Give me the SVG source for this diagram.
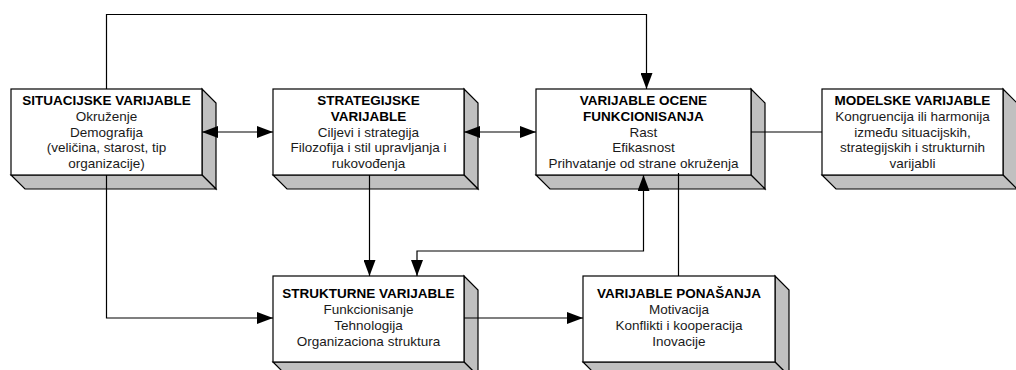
<svg xmlns="http://www.w3.org/2000/svg" width="1016" height="370" viewBox="0 0 1016 370">
<style>
.front{fill:#fff;stroke:#000;stroke-width:1.2}
.shade{fill:#c0c0c0;stroke:#000;stroke-width:1.2;stroke-linejoin:miter}
text{font-family:"Liberation Sans",Arial,sans-serif;font-size:13.5px;fill:#1a1a1a;text-anchor:middle}
.t{font-weight:bold;fill:#000}
.c{fill:none;stroke:#000;stroke-width:1.2}
</style>
<defs>
<marker id="ah" markerUnits="userSpaceOnUse" markerWidth="16" markerHeight="12" viewBox="0 0 16 12" refX="16" refY="6" orient="auto-start-reverse">
<path d="M0,0 L16,6 L0,12 z" fill="#000"/>
</marker>
</defs>
<rect width="1016" height="370" fill="#fff"/>

<g id="situacijske">
<polygon class="shade" points="202,89 216,103 216,189 202,175"/>
<polygon class="shade" points="11,175 202,175 216,189 25,189"/>
<rect class="front" x="11" y="89" width="191" height="86"/>
<text class="t" x="106.5" y="105">SITUACIJSKE VARIJABLE</text>
<text x="106.5" y="121">Okruženje</text>
<text x="106.5" y="136.5">Demografija</text>
<text x="106.5" y="152">(veličina, starost, tip</text>
<text x="106.5" y="167.5">organizacije)</text>
</g>

<g id="strategijske">
<polygon class="shade" points="464,89 478,103 478,189 464,175"/>
<polygon class="shade" points="273,175 464,175 478,189 287,189"/>
<rect class="front" x="273" y="89" width="191" height="86"/>
<text class="t" x="368.5" y="105">STRATEGIJSKE</text>
<text class="t" x="368.5" y="121">VARIJABLE</text>
<text x="368.5" y="136.5">Ciljevi i strategija</text>
<text x="368.5" y="152">Filozofija i stil upravljanja i</text>
<text x="368.5" y="167.5">rukovođenja</text>
</g>

<g id="ocene">
<polygon class="shade" points="751,89 765,103 765,189 751,175"/>
<polygon class="shade" points="536,175 751,175 765,189 550,189"/>
<rect class="front" x="536" y="89" width="215" height="86"/>
<text class="t" x="643.5" y="105">VARIJABLE OCENE</text>
<text class="t" x="643.5" y="121">FUNKCIONISANJA</text>
<text x="643.5" y="136.5">Rast</text>
<text x="643.5" y="152">Efikasnost</text>
<text x="643.5" y="167.5">Prihvatanje od strane okruženja</text>
</g>

<g id="modelske">
<polygon class="shade" points="1003,89 1017,103 1017,189 1003,175"/>
<polygon class="shade" points="822,175 1003,175 1017,189 836,189"/>
<rect class="front" x="822" y="89" width="181" height="86"/>
<text class="t" x="912.5" y="105">MODELSKE VARIJABLE</text>
<text x="912.5" y="121">Kongruencija ili harmonija</text>
<text x="912.5" y="136.5">između situacijskih,</text>
<text x="912.5" y="152">strategijskih i strukturnih</text>
<text x="912.5" y="167.5">varijabli</text>
</g>

<g id="strukturne">
<polygon class="shade" points="464,276 478,290 478,376 464,362"/>
<polygon class="shade" points="273,362 464,362 478,376 287,376"/>
<rect class="front" x="273" y="276" width="191" height="86"/>
<text class="t" x="368.5" y="298">STRUKTURNE VARIJABLE</text>
<text x="368.5" y="314">Funkcionisanje</text>
<text x="368.5" y="330">Tehnologija</text>
<text x="368.5" y="346">Organizaciona struktura</text>
</g>

<g id="ponasanja">
<polygon class="shade" points="775,276 789,290 789,376 775,362"/>
<polygon class="shade" points="583,362 775,362 789,376 597,376"/>
<rect class="front" x="583" y="276" width="192" height="86"/>
<text class="t" x="679" y="298">VARIJABLE PONAŠANJA</text>
<text x="679" y="314">Motivacija</text>
<text x="679" y="330">Konflikti i kooperacija</text>
<text x="679" y="346">Inovacije</text>
</g>

<g id="connectors">
<path class="c" d="M202,132 H273" marker-start="url(#ah)" marker-end="url(#ah)"/>
<path class="c" d="M464,132 H536" marker-start="url(#ah)" marker-end="url(#ah)"/>
<path class="c" d="M751,132 H822"/>
<path class="c" d="M106.5,89 V14.5 H646.5 V89" marker-end="url(#ah)"/>
<path class="c" d="M106.5,175 V318 H273" marker-end="url(#ah)"/>
<path class="c" d="M369.5,175 V276" marker-end="url(#ah)"/>
<path class="c" d="M643.5,175 V251 H417 V276" marker-start="url(#ah)" marker-end="url(#ah)"/>
<path class="c" d="M678.5,173 V276"/>
<path class="c" d="M464,318 H583" marker-end="url(#ah)"/>
</g>
</svg>
